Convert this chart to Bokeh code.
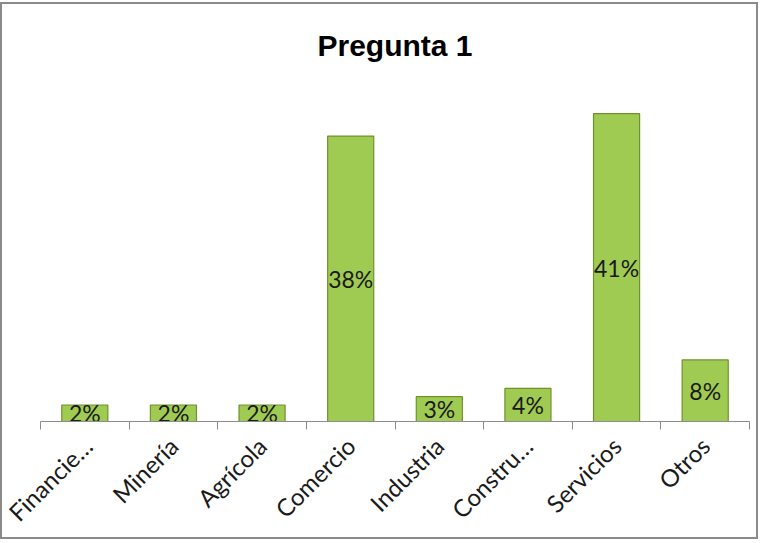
import math
from bokeh.plotting import figure
from bokeh.models import ColumnDataSource, Range1d, FixedTicker
from bokeh.core.properties import value
from bokeh.embed import file_html
from bokeh.resources import INLINE

categories = ["Financie…", "Minería", "Agrícola", "Comercio", "Industria", "Constru…", "Servicios", "Otros"]
values = [2.2, 2.2, 2.2, 38.0, 3.3, 4.4, 41.0, 8.2]
labels = ["2%", "2%", "2%", "38%", "3%", "4%", "41%", "8%"]
y_max = 45

n = len(categories)
centers = [i + 0.5 for i in range(n)]
source = ColumnDataSource(dict(x=centers, top=values, mid=[v / 2 for v in values], label=labels))

p = figure(width=758, height=537, output_backend="svg", toolbar_location=None,
           x_range=Range1d(0, n), y_range=Range1d(0, y_max),
           min_border_left=38, min_border_right=11, min_border_top=79, min_border_bottom=120)
p.styles = {"border": "2px solid #8a8a8a", "margin-top": "2px"}

p.title.text = "Pregunta 1"
p.title.align = "center"
p.title.text_font = "Liberation Sans"
p.title.text_font_style = "bold"
p.title.text_font_size = "30px"
p.title.text_color = "#000000"
p.title.standoff = 43

p.vbar(x="x", top="top", bottom=0, width=0.52, source=source,
       fill_color="#a0cb52", line_color="#6f922c", line_width=1.2)

p.text(x="x", y="mid", text="label", source=source, text_align="center",
       text_baseline="middle", text_font=value("Lato"), text_font_size="23px",
       text_color="#1a1a1a")

p.yaxis.visible = False
p.xgrid.visible = False
p.ygrid.visible = False
p.outline_line_color = None

ax = p.xaxis[0]
ax.ticker = FixedTicker(ticks=centers, minor_ticks=list(range(n + 1)))
ax.major_label_overrides = {c: name for c, name in zip(centers, categories)}
ax.major_tick_in = 0
ax.major_tick_out = 0
ax.minor_tick_in = 0
ax.minor_tick_out = 8
ax.axis_line_color = "#8c8c8c"
ax.minor_tick_line_color = "#8c8c8c"
ax.major_label_orientation = math.pi / 4
ax.major_label_text_font = "Lato"
ax.major_label_text_font_size = "24px"
ax.major_label_text_color = "#1a1a1a"
ax.major_label_standoff = 12

open("out.html", "w").write(file_html(p, INLINE))
